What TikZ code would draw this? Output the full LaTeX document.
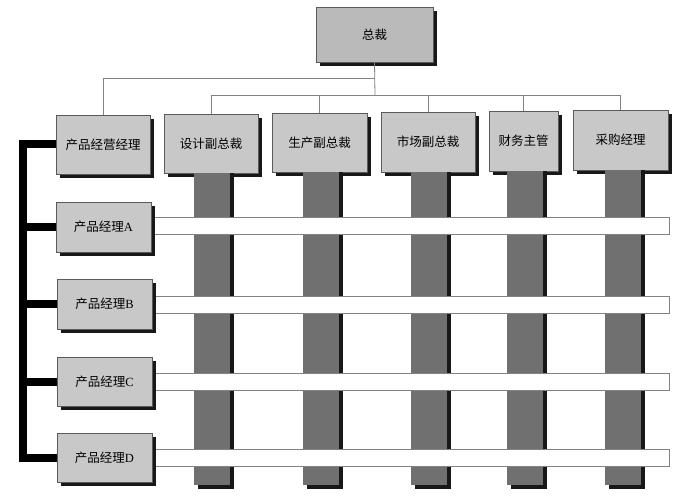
\documentclass[tikz,border=0pt]{standalone}
\usepackage{fontspec}
\setmainfont{Liberation Serif}
\newfontfamily\cjk{Noto Sans CJK SC}
\usetikzlibrary{shadows,calc}
\definecolor{boxfill}{RGB}{200,200,200}
\definecolor{topfill}{RGB}{186,186,186}
\definecolor{boxline}{RGB}{90,90,90}
\definecolor{colfill}{RGB}{112,112,112}
\definecolor{shadowc}{RGB}{24,24,24}
\definecolor{wireline}{RGB}{130,130,130}
\begin{document}
\begin{tikzpicture}[x=1pt,y=-1pt,
  orgbox/.style={draw=boxline, line width=0.8pt, fill=boxfill, inner sep=0pt,
    font=\fontsize{12.5}{15}\selectfont,
    drop shadow={shadow xshift=4pt, shadow yshift=-4pt, opacity=1, fill=shadowc}},
  wire/.style={draw=wireline, line width=0.8pt},
  bracket/.style={draw=black, line width=8pt, line join=miter},
  bar/.style={draw=wireline, line width=0.8pt, fill=white},
  colbody/.style={fill=colfill},
  colshadow/.style={fill=shadowc}]
\useasboundingbox (0,0) rectangle (683,500);

% top and second-level boxes
\node[orgbox, fill=topfill, minimum width=117pt, minimum height=55pt] (top) at (374.5,34.5) {\cjk 总裁};
\node[orgbox, minimum width=94pt, minimum height=59pt] (pm)  at (103,144.5) {\cjk 产品经营经理};
\node[orgbox, minimum width=94pt, minimum height=59pt] (sj)  at (211,143.5) {\cjk 设计副总裁};
\node[orgbox, minimum width=95pt, minimum height=59pt] (sc)  at (319.5,142.5) {\cjk 生产副总裁};
\node[orgbox, minimum width=94pt, minimum height=60pt] (shc) at (428,142) {\cjk 市场副总裁};
\node[orgbox, minimum width=69pt, minimum height=60pt] (cw)  at (523.5,141) {\cjk 财务主管};
\node[orgbox, minimum width=95pt, minimum height=60pt] (cg)  at (620.5,140) {\cjk 采购经理};

% connectors
\coordinate (bus1) at (375,78);
\coordinate (bus2) at (375,95);
\draw[wire] (top.south) -- (bus2);
\draw[wire] (pm.north) |- (bus1);
\draw[wire] (sj.north) -- (sj.north |- bus2) -- (cg.north |- bus2) -- (cg.north);
\draw[wire] (sc.north) -- (sc.north |- bus2);
\draw[wire] (shc.north) -- (shc.north |- bus2);
\draw[wire] (cw.north) -- (cw.north |- bus2);

% columns below the functional heads
\foreach \b/\cx in {sj/212, sc/321, shc/429, cw/525, cg/623}{
  \fill[colshadow] ($(\cx,0 |- \b.south)+(-14,0)$) rectangle (\cx+22,489);
  \fill[colbody] ($(\cx,0 |- \b.south)+(-18,0)$) rectangle (\cx+18,485);
}

% horizontal product bars
\foreach \ya/\yb in {217/234, 296/313, 373/390, 449/466}{
  \draw[bar] (140,\ya) rectangle (669,\yb);
}

% product manager boxes
\node[orgbox, minimum width=95pt, minimum height=50pt] (pA) at (103.5,227) {{\cjk 产品经理}A};
\node[orgbox, minimum width=95pt, minimum height=50pt] (pB) at (104.5,304) {{\cjk 产品经理}B};
\node[orgbox, minimum width=95pt, minimum height=49pt] (pC) at (104.5,381.5) {{\cjk 产品经理}C};
\node[orgbox, minimum width=95pt, minimum height=49pt] (pD) at (104.5,457.5) {{\cjk 产品经理}D};

% thick bracket
\coordinate (bx) at (23,0);
\draw[bracket] (pm.west) -| (bx |- pD.west) -- (pD.west);
\draw[bracket] (pA.west) -- (bx |- pA.west);
\draw[bracket] (pB.west) -- (bx |- pB.west);
\draw[bracket] (pC.west) -- (bx |- pC.west);
\end{tikzpicture}
\end{document}
